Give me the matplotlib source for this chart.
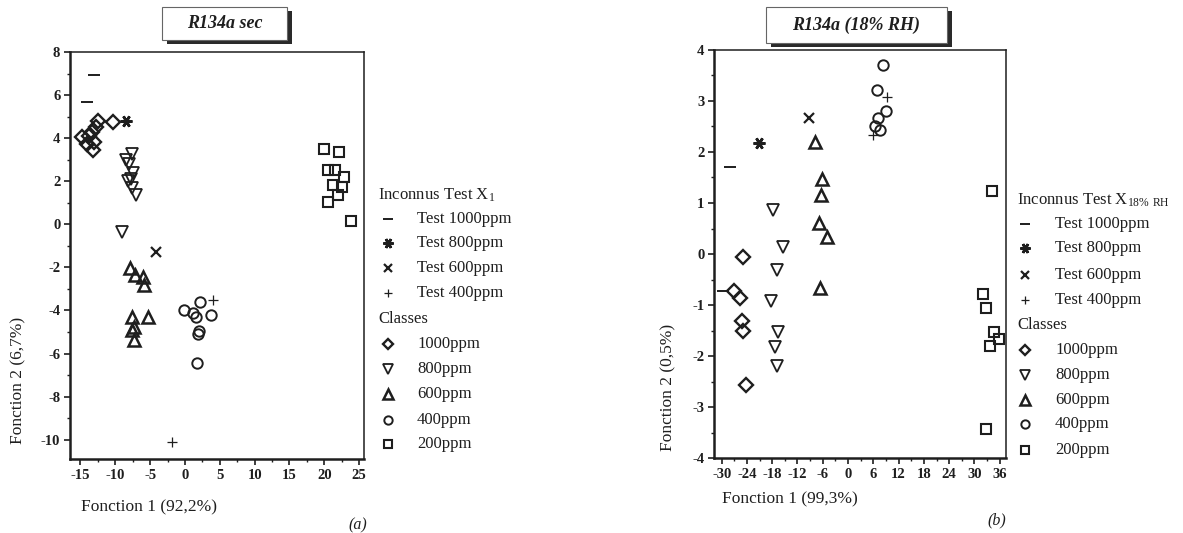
import matplotlib
matplotlib.use("Agg")
import matplotlib.pyplot as plt
from matplotlib.patches import Rectangle
from matplotlib.lines import Line2D
from matplotlib import ticker

plt.rcParams['font.family'] = ['Liberation Serif', 'DejaVu Serif']
plt.rcParams['mathtext.fontset'] = 'custom'
plt.rcParams['mathtext.rm'] = 'Liberation Serif'
plt.rcParams['mathtext.default'] = 'regular'
plt.rcParams['axes.unicode_minus'] = False

# ---- panel (a) : R134a sec ----
a_test1000_x = [-13.0, -14.0]
a_test1000_y = [6.95, 5.7]
a_test800_x = [-8.5]
a_test800_y = [4.8]
a_test600_x = [-4.2]
a_test600_y = [-1.3]
a_test400_x = [4.0, -1.9]
a_test400_y = [-3.5, -10.1]
a_c1000_x = [-14.8, -14.0, -13.2, -13.0, -13.3, -12.8, -12.5, -10.3, -13.8]
a_c1000_y = [4.05, 3.75, 3.45, 3.8, 4.3, 4.5, 4.8, 4.75, 4.1]
a_c800_x = [-7.6, -8.5, -8.0, -7.5, -8.2, -7.6, -7.0, -9.0, -7.8]
a_c800_y = [3.25, 3.0, 2.8, 2.4, 2.0, 1.7, 1.35, -0.35, 2.1]
a_c600_x = [-7.9, -7.2, -6.0, -5.9, -7.6, -5.3, -7.3, -7.6, -7.3]
a_c600_y = [-2.02, -2.34, -2.43, -2.8, -4.3, -4.3, -4.75, -4.9, -5.36]
a_c400_x = [-0.1, 1.1, 1.6, 2.15, 3.7, 2.0, 1.85, 1.7]
a_c400_y = [-4.0, -4.1, -4.3, -3.6, -4.2, -4.95, -5.1, -6.45]
a_c200_x = [19.9, 22.1, 20.5, 21.5, 22.8, 21.2, 22.6, 21.9, 20.6, 23.9]
a_c200_y = [3.5, 3.36, 2.5, 2.5, 2.2, 1.83, 1.73, 1.37, 1.05, 0.16]

# ---- panel (b) : R134a (18% RH) ----
b_test1000_x = [-28.0, -29.7]
b_test1000_y = [1.70, -0.73]
b_test800_x = [-21.1]
b_test800_y = [2.17]
b_test600_x = [-9.3]
b_test600_y = [2.66]
b_test400_x = [9.2, 5.9]
b_test400_y = [3.08, 2.33]
b_c1000_x = [-24.9, -27.1, -25.7, -25.2, -24.9, -24.2]
b_c1000_y = [-0.05, -0.72, -0.87, -1.32, -1.5, -2.56]
b_c800_x = [-17.8, -15.4, -16.9, -18.3, -16.6, -17.3, -16.9]
b_c800_y = [0.87, 0.13, -0.32, -0.93, -1.52, -1.83, -2.2]
b_c600_x = [-7.8, -6.2, -6.4, -6.9, -5.0, -6.7]
b_c600_y = [2.2, 1.48, 1.15, 0.6, 0.33, -0.66]
b_c400_x = [8.3, 6.9, 9.0, 7.1, 6.4, 7.6]
b_c400_y = [3.7, 3.21, 2.8, 2.66, 2.5, 2.43]
b_c200_x = [34.2, 32.1, 32.8, 34.7, 35.9, 33.7, 32.8]
b_c200_y = [1.23, -0.79, -1.05, -1.52, -1.66, -1.81, -3.43]

test_labels = ['Test 1000ppm', 'Test 800ppm', 'Test 600ppm', 'Test 400ppm']
class_labels = ['1000ppm', '800ppm', '600ppm', '400ppm', '200ppm']

INK = '#1e1e1e'
test_styles = [dict(marker='_', ms=8, mew=1.4),
               dict(marker=(6, 2, 90), ms=8.5, mew=1.9),
               dict(marker='x', ms=7.5, mew=1.6),
               dict(marker='+', ms=7.5, mew=0.9)]
class_styles = [dict(marker='D', ms=6.8, mew=1.7),
                dict(marker='v', ms=8.5, mew=1.3),
                dict(marker='^', ms=8.5, mew=1.8),
                dict(marker='o', ms=7.5, mew=1.4),
                dict(marker='s', ms=6.5, mew=1.5)]


def draw_panel(ax, tests, classes):
    for (x, y), st in zip(tests, test_styles):
        ax.plot(x, y, linestyle='none', color=INK, clip_on=False, **st)
    for (x, y), st in zip(classes, class_styles):
        ax.plot(x, y, linestyle='none', color=INK, mfc='none', mec=INK, clip_on=False, **st)
    for s in ['left', 'bottom']:
        ax.spines[s].set_linewidth(1.8)
    for s in ['top', 'right']:
        ax.spines[s].set_linewidth(1.1)
    for s in ax.spines.values():
        s.set_color(INK)
    ax.tick_params(which='major', direction='out', length=4, width=1.2, colors=INK,
                   labelsize=10.5, labelcolor=INK, pad=3)
    ax.tick_params(which='minor', direction='out', length=2.5, width=1.0, colors=INK)


def bold_ticks(ax):
    for lab in ax.get_xticklabels() + ax.get_yticklabels():
        lab.set_fontweight('bold')


def draw_legend(fig, hx, mx, tx, rows, sub):
    H = 533.0
    W = 1183.0
    fig.text(hx / W, 1 - rows[0] / H, 'Inconnus Test X$_{' + sub + '}$', fontsize=12,
             color=INK, va='center', ha='left')
    for i, lab in enumerate(test_labels):
        y = 1 - rows[1 + i] / H
        st = dict(test_styles[i])
        st['ms'] = st['ms'] * 0.85
        fig.add_artist(Line2D([mx / W], [y], linestyle='none', color=INK, **st))
        fig.text(tx / W, y, lab, fontsize=12, color=INK, va='center', ha='left')
    fig.text(hx / W, 1 - rows[5] / H, 'Classes', fontsize=12, color=INK, va='center', ha='left')
    for i, lab in enumerate(class_labels):
        y = 1 - rows[6 + i] / H
        st = dict(class_styles[i])
        st['ms'] = st['ms'] * 0.8
        fig.add_artist(Line2D([mx / W], [y], linestyle='none', color=INK, mfc='none', mec=INK, **st))
        fig.text(tx / W, y, lab, fontsize=12, color=INK, va='center', ha='left')


def title_box(fig, x0, y0, x1, y1, text):
    W, H = 1183.0, 533.0
    shadow = Rectangle((x0 / W + 5 / W, 1 - y1 / H - 4 / H), (x1 - x0) / W, (y1 - y0) / H,
                       transform=fig.transFigure, facecolor='#2a2a2a', edgecolor='none')
    box = Rectangle((x0 / W, 1 - y1 / H), (x1 - x0) / W, (y1 - y0) / H,
                    transform=fig.transFigure, facecolor='white', edgecolor='#666666', linewidth=0.8)
    fig.add_artist(shadow)
    fig.add_artist(box)
    fig.text((x0 + x1) / 2 / W, 1 - (y0 + y1) / 2 / H, text, fontsize=13,
             fontweight='bold', fontstyle='italic', color=INK, ha='center', va='center')


fig = plt.figure(figsize=(11.83, 5.33), dpi=100)

# panel (a)
ax1 = fig.add_axes([0.0592, 0.1388, 0.2485, 0.7636])
draw_panel(ax1,
           [(a_test1000_x, a_test1000_y), (a_test800_x, a_test800_y),
            (a_test600_x, a_test600_y), (a_test400_x, a_test400_y)],
           [(a_c1000_x, a_c1000_y), (a_c800_x, a_c800_y), (a_c600_x, a_c600_y),
            (a_c400_x, a_c400_y), (a_c200_x, a_c200_y)])
ax1.set_xlim(-16.5, 25.7)
ax1.set_ylim(-10.9, 8)
ax1.xaxis.set_major_locator(ticker.MultipleLocator(5))
ax1.xaxis.set_minor_locator(ticker.MultipleLocator(2.5))
ax1.yaxis.set_major_locator(ticker.MultipleLocator(2))
ax1.yaxis.set_minor_locator(ticker.MultipleLocator(1))
bold_ticks(ax1)

# panel (b)
ax2 = fig.add_axes([0.6036, 0.1407, 0.2468, 0.7655])
draw_panel(ax2,
           [(b_test1000_x, b_test1000_y), (b_test800_x, b_test800_y),
            (b_test600_x, b_test600_y), (b_test400_x, b_test400_y)],
           [(b_c1000_x, b_c1000_y), (b_c800_x, b_c800_y), (b_c600_x, b_c600_y),
            (b_c400_x, b_c400_y), (b_c200_x, b_c200_y)])
ax2.set_xlim(-31.8, 37.5)
ax2.set_ylim(-4, 4)
ax2.xaxis.set_major_locator(ticker.MultipleLocator(6))
ax2.xaxis.set_minor_locator(ticker.MultipleLocator(3))
ax2.yaxis.set_major_locator(ticker.MultipleLocator(1))
ax2.yaxis.set_minor_locator(ticker.MultipleLocator(0.5))
bold_ticks(ax2)

W, H = 1183.0, 533.0
# axis labels
fig.text(149 / W, 1 - 507 / H, 'Fonction 1 (92,2%)', fontsize=12.5, color=INK, ha='center', va='center')
fig.text(18 / W, 1 - 380 / H, 'Fonction 2 (6,7%)', fontsize=12.5, color=INK, ha='center', va='center',
         rotation=90)
fig.text(790 / W, 1 - 499 / H, 'Fonction 1 (99,3%)', fontsize=12.5, color=INK, ha='center', va='center')
fig.text(668 / W, 1 - 387 / H, 'Fonction 2 (0,5%)', fontsize=12.5, color=INK, ha='center', va='center',
         rotation=90)

# titles
title_box(fig, 162, 7, 287, 40, 'R134a sec')
title_box(fig, 766, 7, 947, 43, 'R134a (18% RH)')

# legends
draw_legend(fig, 378, 388, 417, [195, 219, 243, 268, 293, 319, 344, 369, 394, 420, 444], '1')
draw_legend(fig, 1017, 1025, 1055, [200, 224, 248, 275, 300, 325, 350, 375, 400, 424, 450], '18\\%\\ RH')

fig.text(358 / W, 1 - 525 / H, '(a)', fontsize=11.5, fontstyle='italic', color=INK, ha='center', va='center')
fig.text(997 / W, 1 - 520 / H, '(b)', fontsize=11.5, fontstyle='italic', color=INK, ha='center', va='center')

fig.savefig('out.png', dpi=100, facecolor='white')
